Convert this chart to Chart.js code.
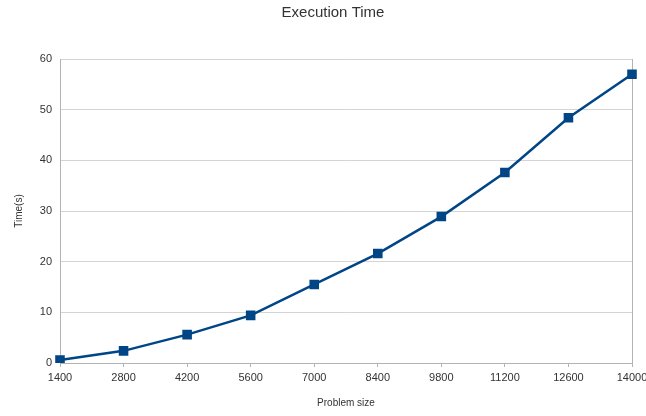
<!DOCTYPE html>
<html>
<head>
<meta charset="utf-8">
<script src="https://cdn.jsdelivr.net/npm/chart.js@4"></script>
<style>
html,body{margin:0;padding:0;background:#fff;}
#wrap{width:646px;height:416px;}
</style>
</head>
<body>
<div id="wrap"><canvas id="c" width="646" height="416"></canvas></div>
<script>
const categories = ['1400','2800','4200','5600','7000','8400','9800','11200','12600','14000'];
const timeValues = [0.6, 2.4, 5.6, 9.4, 15.5, 21.6, 28.9, 37.6, 48.4, 57.0];
const yTicks = [0, 10, 20, 30, 40, 50, 60];
const chartTitle = 'Execution Time';

const FONT = '"Liberation Sans", Arial, sans-serif';
Chart.defaults.font.family = FONT;
Chart.defaults.color = '#333';

const extras = {
  id: 'extras',
  beforeDatasetsDraw(chart) {
    const a = chart.chartArea, ctx = chart.ctx;
    ctx.save();
    ctx.strokeStyle = '#b3b3b3';
    ctx.lineWidth = 1;
    ctx.beginPath();
    ctx.moveTo(Math.round(a.right) + 0.5, a.top);
    ctx.lineTo(Math.round(a.right) + 0.5, a.bottom);
    ctx.stroke();
    ctx.restore();
  },
  afterDraw(chart) {
    const ctx = chart.ctx;
    ctx.save();
    ctx.fillStyle = '#333';
    ctx.font = '15px ' + FONT;
    ctx.textAlign = 'center';
    ctx.textBaseline = 'middle';
    ctx.fillText(chartTitle, 333, 13);
    ctx.restore();
  }
};

new Chart(document.getElementById('c'), {
  type: 'line',
  data: {
    labels: categories,
    datasets: [{
      label: 'Time',
      data: timeValues,
      borderColor: '#004586',
      backgroundColor: '#004586',
      borderWidth: 2.5,
      pointStyle: 'rect',
      pointRadius: 5,
      pointHoverRadius: 5,
      tension: 0,
      fill: false
    }]
  },
  plugins: [extras],
  options: {
    responsive: false,
    animation: false,
    devicePixelRatio: 1,
    layout: { padding: { left: 0, right: 14, top: 59, bottom: 0 } },
    plugins: {
      legend: { display: false },
      tooltip: { enabled: false },
      title: { display: false }
    },
    scales: {
      x: {
        type: 'category',
        offset: false,
        grid: { drawOnChartArea: false, drawTicks: true, tickLength: 4, color: '#b3b3b3' },
        border: { display: true, color: '#b3b3b3', width: 1 },
        ticks: { color: '#333', font: { size: 11 }, padding: 4, maxRotation: 0, autoSkip: false },
        title: { display: true, text: 'Problem size', color: '#333', font: { size: 10 }, padding: { top: 12, bottom: 7 } },
        afterFit: s => { s.height = 53; s.paddingRight = 0; s.paddingLeft = 0; }
      },
      y: {
        min: 0, max: 60,
        afterBuildTicks: s => { s.ticks = yTicks.map(v => ({ value: v })); },
        grid: { color: '#d4d4d4', drawTicks: false, lineWidth: 1 },
        border: { display: true, color: '#b3b3b3', width: 1 },
        ticks: { color: '#333', font: { size: 11 }, padding: 8 },
        title: { display: true, text: 'Time(s)', color: '#333', font: { size: 10 }, padding: { top: 13, bottom: 0 } },
        afterFit: s => { s.width = 60; s.paddingTop = 0; s.paddingBottom = 0; }
      }
    }
  }
});
</script>
</body>
</html>
